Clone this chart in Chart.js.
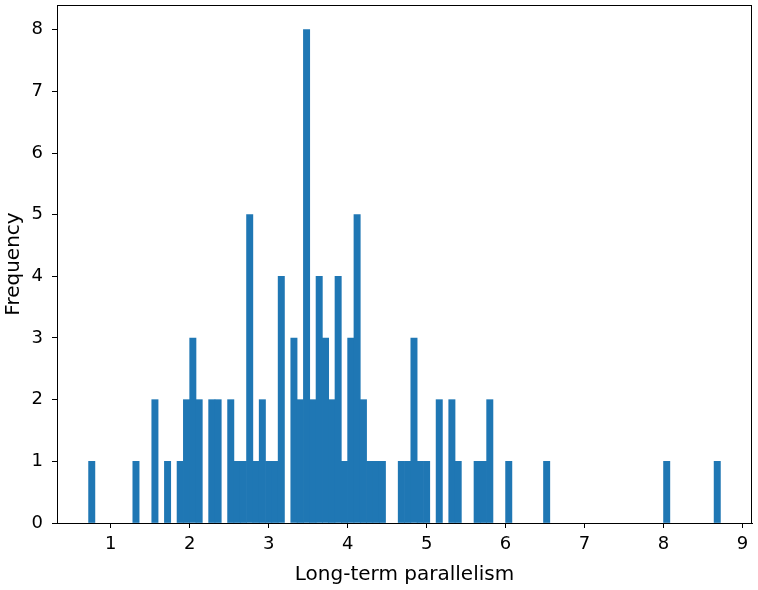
<!DOCTYPE html>
<html>
<head>
<meta charset="utf-8">
<script src="https://cdn.jsdelivr.net/npm/chart.js@4.4.1/dist/chart.umd.min.js"></script>
<style>
  html, body { margin: 0; padding: 0; background: #fff; }
  #wrap { width: 758px; height: 590px; }
</style>
</head>
<body>
<div id="wrap"><canvas id="c" width="758" height="590"></canvas></div>
<script>
// Histogram: 100 bins from 0.72 to 8.72 (bin width 0.08)
const binStart = 0.72;
const binWidth = 0.08;
const counts = [
  1,0,0,0,0,0,0,1,0,0,
  2,0,1,0,1,2,3,2,0,2,
  2,0,2,1,1,5,1,2,1,1,
  4,0,3,2,8,2,4,3,2,4,
  1,3,5,2,1,1,1,0,0,1,
  1,3,1,1,0,2,0,2,1,0,
  0,1,1,2,0,0,1,0,0,0,
  0,0,1,0,0,0,0,0,0,0,
  0,0,0,0,0,0,0,0,0,0,
  0,1,0,0,0,0,0,0,0,1
];
const xTicks = [1,2,3,4,5,6,7,8,9];
const yTicks = [0,1,2,3,4,5,6,7,8];
const xLabel = 'Long-term parallelism';
const yLabel = 'Frequency';

const points = counts.map((c, i) => ({ x: binStart + binWidth * (i + 0.5), y: c === 0 ? null : c }));

const FONT = 'DejaVu Sans';
const boxPlugin = {
  id: 'box',
  afterDraw(chart) {
    const a = chart.chartArea, ctx = chart.ctx;
    ctx.save();
    ctx.strokeStyle = '#000';
    ctx.lineWidth = 1;
    ctx.strokeRect(Math.round(a.left) + 0.5, Math.round(a.top) + 0.5,
                   Math.round(a.right - a.left) - 1, Math.round(a.bottom - a.top));
    ctx.restore();
  }
};

new Chart(document.getElementById('c'), {
  type: 'bar',
  data: {
    datasets: [{
      data: points,
      backgroundColor: '#1f77b4',
      borderColor: '#1f77b4',
      borderWidth: 0,
      barPercentage: 1.0,
      categoryPercentage: 1.0
    }]
  },
  options: {
    responsive: false,
    animation: false,
    devicePixelRatio: 1,
    layout: { padding: { top: 5, right: 6, left: 0, bottom: 0 } },
    plugins: { legend: { display: false }, tooltip: { enabled: false } },
    scales: {
      x: {
        type: 'linear',
        min: 0.32,
        max: 9.12,
        offset: false,
        afterBuildTicks(s) { s.ticks = xTicks.map(v => ({ value: v })); },
        afterFit(s) { s.height = 67; s.paddingLeft = 0; s.paddingRight = 0; },
        grid: { display: true, offset: false, drawOnChartArea: false, drawTicks: true, tickLength: 5, color: '#000' },
        border: { display: true, color: '#000' },
        ticks: { color: '#000', font: { family: FONT, size: 18 }, padding: 6, maxRotation: 0 },
        title: { display: true, text: xLabel, color: '#000', font: { family: FONT, size: 20 }, padding: { top: 2, bottom: 3 } }
      },
      y: {
        type: 'linear',
        min: 0,
        max: 8.4,
        afterBuildTicks(s) { s.ticks = yTicks.map(v => ({ value: v })); },
        afterFit(s) { s.width = 57; s.paddingTop = 0; s.paddingBottom = 0; },
        grid: { display: true, offset: false, drawOnChartArea: false, drawTicks: true, tickLength: 5, color: '#000' },
        border: { display: true, color: '#000' },
        ticks: { color: '#000', font: { family: FONT, size: 18 }, padding: 9 },
        title: { display: true, text: yLabel, color: '#000', font: { family: FONT, size: 20 }, padding: { top: 2, bottom: 2 } }
      }
    }
  },
  plugins: [boxPlugin]
});
</script>
</body>
</html>
